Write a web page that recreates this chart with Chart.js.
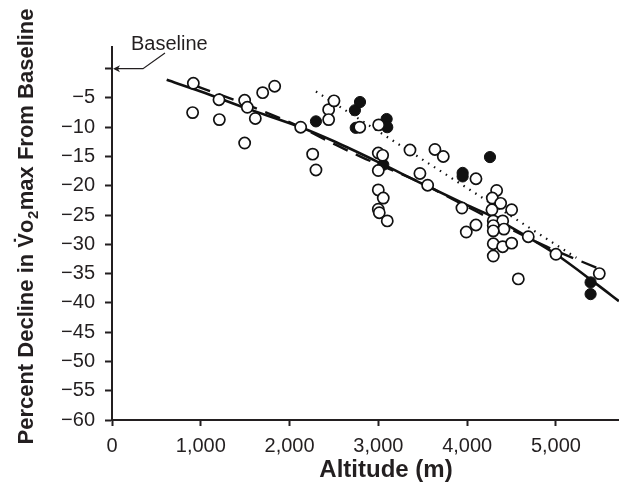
<!DOCTYPE html>
<html>
<head>
<meta charset="utf-8">
<script src="https://cdn.jsdelivr.net/npm/chart.js@4/dist/chart.umd.min.js"></script>
<style>
html,body{margin:0;padding:0;background:#fff;}
#wrap{width:619px;height:484px;position:relative;}
</style>
</head>
<body>
<div id="wrap"><canvas id="c" width="619" height="484"></canvas></div>
<script>
// ---- tick values ----
const xTicks = [0, 1000, 2000, 3000, 4000, 5000];
const yTicks = [0, -5, -10, -15, -20, -25, -30, -35, -40, -45, -50, -55, -60];

// ---- open circles (altitude m, % decline) ----
const openAlt = [916, 908, 1205, 1209, 1494, 1524, 1614, 1494, 1697, 1832,
  2125, 2260, 2297, 2440, 2440, 2500, 2790, 3003, 2999, 3048,
  2999, 2999, 3055, 2999, 3010, 3100, 3356, 3468, 3555, 3637,
  3731, 4099, 3941, 4099, 3990, 4332, 4283, 4377, 4279, 4501,
  4294, 4400, 4294, 4414, 4294, 4294, 4400, 4501, 4294, 4688,
  5000, 4576, 5488];
const openDecline = [-2.5, -7.5, -5.3, -8.7, -5.4, -6.6, -8.5, -12.7, -4.1, -3.0,
  -10.0, -14.6, -17.3, -7.0, -8.7, -5.5, -10.0, -9.6, -14.4, -14.8,
  -17.4, -20.7, -22.1, -24.0, -24.6, -26.0, -13.9, -17.9, -19.9, -13.8,
  -15.0, -18.8, -23.8, -26.7, -27.9, -20.8, -22.1, -23.0, -24.1, -24.1,
  -26.0, -26.0, -26.8, -27.4, -27.7, -29.9, -30.4, -29.8, -32.0, -28.7,
  -31.7, -35.9, -35.0];

// ---- filled circles ----
const filledAlt = [2297, 2736, 2793, 2745, 3093, 3100, 3055, 3949, 3949, 4257, 5390, 5390];
const filledDecline = [-9.0, -7.1, -5.7, -10.1, -8.6, -10.0, -16.4, -17.8, -18.4, -15.1, -36.5, -38.5];

// ---- regression lines ----
const solidAlt = [616, 1000, 1500, 2125, 2500, 3018, 3500, 4000, 4257, 4688, 5000, 5458, 5709];
const solidDecline = [-1.9, -3.9, -6.7, -10.0, -12.4, -16.1, -19.7, -23.3, -25.1, -28.8, -31.7, -36.8, -39.7];

const dashedAlt = [935, 1441, 2080, 2493, 2811, 3468, 3825, 4895, 5458];
const dashedDecline = [-2.9, -5.7, -9.7, -12.8, -15.1, -19.4, -22.2, -30.4, -34.0];

const dottedAlt = [2297, 5230];
const dottedDecline = [-3.9, -32.3];

// ---- texts ----
const xTitle = 'Altitude (m)';
const yTitleParts = ['Percent Decline in V\u0307o', '2', 'max From Baseline'];
const baselineLabel = 'Baseline';

const FONT = '"Liberation Sans", Arial, Helvetica, sans-serif';
const INK = '#231f20';

function zip(xs, ys) { return xs.map((x, i) => ({x: x, y: ys[i]})); }

Chart.defaults.font.family = FONT;
Chart.defaults.color = INK;

const annot = {
  id: 'annot',
  afterDraw(chart) {
    const ctx = chart.ctx;
    const xs = chart.scales.x, ys = chart.scales.y;
    const by = ys.getPixelForValue(0);
    const ax = xs.getPixelForValue(0);
    ctx.save();
    ctx.fillStyle = INK;
    ctx.strokeStyle = INK;
    // Baseline label with leader arrow
    ctx.font = '20px ' + FONT;
    ctx.textAlign = 'left';
    ctx.textBaseline = 'alphabetic';
    ctx.fillText(baselineLabel, 131, 50);
    ctx.lineWidth = 1.2;
    ctx.beginPath();
    ctx.moveTo(165, 53);
    ctx.lineTo(143, by);
    ctx.lineTo(ax + 3, by);
    ctx.stroke();
    ctx.beginPath();
    ctx.moveTo(ax + 1, by);
    ctx.lineTo(ax + 8, by - 3.5);
    ctx.lineTo(ax + 6, by);
    ctx.lineTo(ax + 8, by + 3.5);
    ctx.closePath();
    ctx.fill();
    // x title
    ctx.font = 'bold 24px ' + FONT;
    ctx.textAlign = 'center';
    ctx.fillText(xTitle, 386, 477);
    // y title (rotated, with subscript)
    const big = 'bold 22px ' + FONT, small = 'bold 15px ' + FONT;
    ctx.font = big;
    const w1 = ctx.measureText(yTitleParts[0]).width;
    const w3 = ctx.measureText(yTitleParts[2]).width;
    ctx.font = small;
    const w2 = ctx.measureText(yTitleParts[1]).width;
    const total = w1 + w2 + w3;
    ctx.translate(33, 227 + total / 2);
    ctx.rotate(-Math.PI / 2);
    ctx.textAlign = 'left';
    ctx.font = big;
    ctx.fillText(yTitleParts[0], 0, 0);
    ctx.font = small;
    ctx.fillText(yTitleParts[1], w1 + 0.5, 5);
    ctx.font = big;
    ctx.fillText(yTitleParts[2], w1 + w2 + 1, 0);
    ctx.restore();
  }
};

new Chart(document.getElementById('c'), {
  type: 'scatter',
  data: {
    datasets: [
      {
        label: 'Open',
        data: zip(openAlt, openDecline),
        pointRadius: 5.6,
        pointBorderWidth: 1.7,
        pointBackgroundColor: '#ffffff',
        pointBorderColor: '#111111',
        order: 0
      },
      {
        label: 'Filled',
        data: zip(filledAlt, filledDecline),
        pointRadius: 5.6,
        pointBorderWidth: 1,
        pointBackgroundColor: '#111111',
        pointBorderColor: '#111111',
        order: 0
      },
      {
        label: 'Solid fit',
        data: zip(solidAlt, solidDecline),
        showLine: true,
        pointRadius: 0,
        borderColor: '#111111',
        borderWidth: 2.6,
        cubicInterpolationMode: 'monotone',
        order: 1
      },
      {
        label: 'Dashed fit',
        data: zip(dashedAlt, dashedDecline),
        showLine: true,
        pointRadius: 0,
        borderColor: '#111111',
        borderWidth: 2.4,
        borderDash: [16, 9],
        cubicInterpolationMode: 'monotone',
        order: 1
      },
      {
        label: 'Dotted fit',
        data: zip(dottedAlt, dottedDecline),
        showLine: true,
        pointRadius: 0,
        borderColor: '#111111',
        borderWidth: 2.2,
        borderDash: [1.5, 5.5],
        order: 1
      }
    ]
  },
  options: {
    responsive: false,
    animation: false,
    devicePixelRatio: 1,
    events: [],
    layout: {autoPadding: false, padding: {top: 47, left: 0, right: 0, bottom: 0}},
    plugins: {legend: {display: false}, tooltip: {enabled: false}},
    scales: {
      x: {
        type: 'linear',
        min: 0,
        max: 5710,
        afterBuildTicks: s => { s.ticks = xTicks.map(v => ({value: v})); },
        afterFit: s => { s.height = 64; },
        border: {display: true, color: INK, width: 2},
        grid: {display: true, drawOnChartArea: false, drawTicks: true, tickLength: 6, tickWidth: 2, tickColor: INK},
        ticks: {
          color: INK, font: {size: 20}, padding: 8, maxRotation: 0, autoSkip: false,
          callback: v => Number(v).toLocaleString('en-US')
        }
      },
      y: {
        type: 'linear',
        min: -60,
        max: 3.7,
        afterBuildTicks: s => { s.ticks = yTicks.map(v => ({value: v})); },
        afterFit: s => { s.width = 112; },
        border: {display: true, color: INK, width: 2},
        grid: {display: true, drawOnChartArea: false, drawTicks: true, tickLength: 7, tickWidth: 2, tickColor: INK},
        ticks: {
          color: INK, font: {size: 20}, padding: 10, autoSkip: false,
          callback: v => (v === 0 ? '' : '\u2212' + Math.abs(v))
        }
      }
    }
  },
  plugins: [annot]
});
</script>
</body>
</html>
